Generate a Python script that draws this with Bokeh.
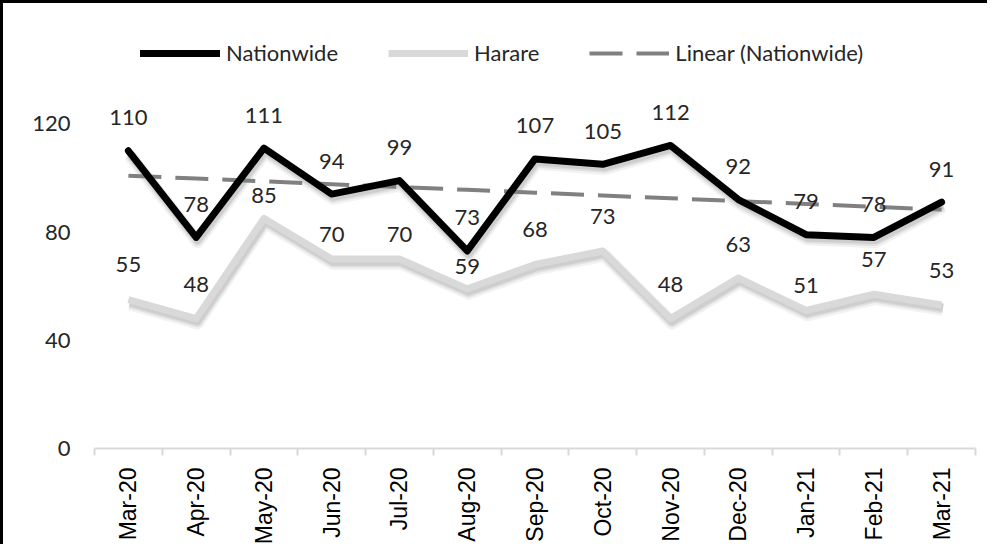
import math
import numpy as np
from bokeh.plotting import figure
from bokeh.models import (Range1d, FixedTicker, CustomJSTickFormatter, Legend, LegendItem,
                          ColumnDataSource)
from bokeh.transform import dodge
from bokeh.core.properties import value
from bokeh.embed import file_html
from bokeh.resources import INLINE

months = ["Mar-20", "Apr-20", "May-20", "Jun-20", "Jul-20", "Aug-20", "Sep-20",
          "Oct-20", "Nov-20", "Dec-20", "Jan-21", "Feb-21", "Mar-21"]
nationwide = [110, 78, 111, 94, 99, 73, 107, 105, 112, 92, 79, 78, 91]
harare = [55, 48, 85, 70, 70, 59, 68, 73, 48, 63, 51, 57, 53]
y_ticks = [0, 40, 80, 120]

# label placement (style): pixels above each point
nat_label_lift = [33] * len(nationwide)
har_label_lift = [35, 34, 23, 25, 25, 22, 35, 34, 34, 34, 25, 35, 35]

n = len(months)
xs = [i + 0.5 for i in range(n)]
bounds = list(range(n + 1))

# linear trend of the nationwide series
slope, intercept = np.polyfit(np.arange(n), np.array(nationwide, dtype=float), 1)
trend = [intercept + slope * i for i in range(n)]

FONT = "Lato"
TXT = "#262626"

p = figure(width=987, height=544, output_backend="svg", toolbar_location=None,
           x_range=Range1d(0, n), y_range=Range1d(0, 160),
           min_border_left=91, min_border_right=15, min_border_top=12, min_border_bottom=96)
p.outline_line_color = None
p.xgrid.grid_line_color = None
p.ygrid.grid_line_color = None
p.background_fill_color = "white"
p.border_fill_color = "white"
p.styles = {"border-left": "3px solid #000000", "border-top": "3px solid #000000",
            "box-sizing": "border-box"}

# x axis
xa = p.xaxis[0]
xa.ticker = FixedTicker(ticks=xs, minor_ticks=bounds)
xa.formatter = CustomJSTickFormatter(args=dict(labels=months),
                                     code="return labels[Math.floor(tick)];")
xa.major_label_orientation = math.pi / 2
xa.major_tick_out = 0
xa.major_tick_in = 0
xa.minor_tick_out = 7
xa.minor_tick_in = 0
xa.minor_tick_line_color = "#d9d9d9"
xa.minor_tick_line_width = 2
xa.axis_line_color = "#d9d9d9"
xa.axis_line_width = 2
xa.major_label_standoff = 12
xa.major_label_text_font = "Liberation Sans"
xa.major_label_text_font_size = "23px"
xa.major_label_text_color = "#000000"

# y axis
ya = p.yaxis[0]
ya.ticker = FixedTicker(ticks=y_ticks)
ya.axis_line_color = None
ya.major_tick_line_color = None
ya.minor_tick_line_color = None
ya.major_tick_out = 0
ya.major_tick_in = 0
ya.major_label_standoff = 24
ya.major_label_text_font = FONT
ya.major_label_text_font_size = "22px"
ya.major_label_text_color = TXT

src = ColumnDataSource(dict(x=xs, nat=nationwide, har=harare, trend=trend,
                            nat_lbl=[str(v) for v in nationwide],
                            har_lbl=[str(v) for v in harare],
                            nat_off=[-v for v in nat_label_lift],
                            har_off=[-v for v in har_label_lift]))

# soft drop shadows under the two series lines
for col in ("har", "nat"):
    for w, a, d in ((13, 0.05, -1.6), (10, 0.07, -1.3), (8, 0.08, -1.0)):
        p.line(dodge("x", 0.02, range=p.x_range), dodge(col, d, range=p.y_range), source=src,
               line_color="#000000", line_alpha=a, line_width=w, line_join="round")

r_har = p.line("x", "har", source=src, line_color="#d9d9d9", line_width=7, line_join="round")
r_trend = p.line("x", "trend", source=src, line_color="#808080", line_width=4, line_dash="33 14")
r_nat = p.line("x", "nat", source=src, line_color="#000000", line_width=7, line_join="round",
               line_cap="round")

p.text("x", "nat", text="nat_lbl", source=src, text_align="center", text_baseline="middle",
       y_offset="nat_off", text_font=value(FONT), text_font_size="22px", text_color=TXT)
p.text("x", "har", text="har_lbl", source=src, text_align="center", text_baseline="middle",
       y_offset="har_off", text_font=value(FONT), text_font_size="22px", text_color=TXT)

legend = Legend(items=[LegendItem(label="Nationwide", renderers=[r_nat]),
                       LegendItem(label="Harare", renderers=[r_har]),
                       LegendItem(label="Linear (Nationwide)", renderers=[r_trend])],
                orientation="horizontal", location=(46, 382),
                glyph_width=80, glyph_height=20, label_standoff=6, spacing=50,
                padding=0, margin=0, border_line_color=None, background_fill_alpha=0,
                label_text_font=FONT, label_text_font_size="22px", label_text_color=TXT)
p.add_layout(legend)

open("out.html", "w").write(file_html(p, INLINE))
